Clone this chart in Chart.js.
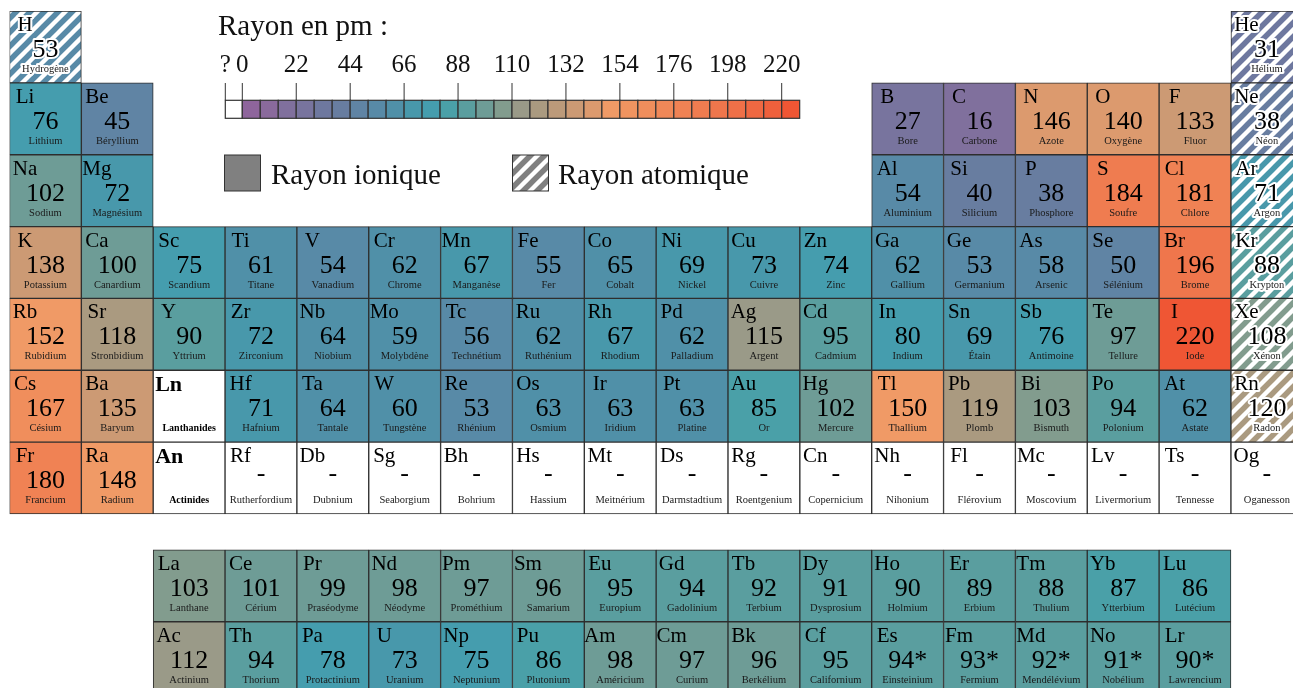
<!DOCTYPE html>
<html>
<head>
<meta charset="utf-8">
<script src="https://cdn.jsdelivr.net/npm/chart.js@4.4.1/dist/chart.umd.min.js"></script>
<style>
  html, body { margin: 0; padding: 0; overflow: hidden; background: #fff; }
  canvas { display: block; }
</style>
</head>
<body>
<canvas id="myChart" width="1320" height="702"></canvas>
<script>
var symbols = [
  'H','He',
  'Li','Be','B','C','N','O','F','Ne',
  'Na','Mg','Al','Si','P','S','Cl','Ar',
  'K','Ca','Sc','Ti','V','Cr','Mn','Fe','Co','Ni','Cu','Zn','Ga','Ge','As','Se','Br','Kr',
  'Rb','Sr','Y','Zr','Nb','Mo','Tc','Ru','Rh','Pd','Ag','Cd','In','Sn','Sb','Te','I','Xe',
  'Cs','Ba','Ln','Hf','Ta','W','Re','Os','Ir','Pt','Au','Hg','Tl','Pb','Bi','Po','At','Rn',
  'Fr','Ra','An','Rf','Db','Sg','Bh','Hs','Mt','Ds','Rg','Cn','Nh','Fl','Mc','Lv','Ts','Og',
  'La','Ce','Pr','Nd','Pm','Sm','Eu','Gd','Tb','Dy','Ho','Er','Tm','Yb','Lu',
  'Ac','Th','Pa','U','Np','Pu','Am','Cm','Bk','Cf','Es','Fm','Md','No','Lr'
];

var radii = [
  53, 31,
  76, 45, 27, 16, 146, 140, 133, 38,
  102, 72, 54, 40, 38, 184, 181, 71,
  138, 100, 75, 61, 54, 62, 67, 55, 65, 69, 73, 74, 62, 53, 58, 50, 196, 88,
  152, 118, 90, 72, 64, 59, 56, 62, 67, 62, 115, 95, 80, 69, 76, 97, 220, 108,
  167, 135, null, 71, 64, 60, 53, 63, 63, 63, 85, 102, 150, 119, 103, 94, 62, 120,
  180, 148, null, null, null, null, null, null, null, null, null, null, null, null, null, null, null, null,
  103, 101, 99, 98, 97, 96, 95, 94, 92, 91, 90, 89, 88, 87, 86,
  112, 94, 78, 73, 75, 86, 98, 97, 96, 95, 94, 93, 92, 91, 90
];

var names = [
  'Hydrogène','Hélium',
  'Lithium','Béryllium','Bore','Carbone','Azote','Oxygène','Fluor','Néon',
  'Sodium','Magnésium','Aluminium','Silicium','Phosphore','Soufre','Chlore','Argon',
  'Potassium','Canardium','Scandium','Titane','Vanadium','Chrome','Manganèse','Fer','Cobalt','Nickel','Cuivre','Zinc','Gallium','Germanium','Arsenic','Sélénium','Brome','Krypton',
  'Rubidium','Stronbidium','Yttrium','Zirconium','Niobium','Molybdène','Technétium','Ruthénium','Rhodium','Palladium','Argent','Cadmium','Indium','Étain','Antimoine','Tellure','Iode','Xénon',
  'Césium','Baryum','Lanthanides','Hafnium','Tantale','Tungstène','Rhénium','Osmium','Iridium','Platine','Or','Mercure','Thallium','Plomb','Bismuth','Polonium','Astate','Radon',
  'Francium','Radium','Actinides','Rutherfordium','Dubnium','Seaborgium','Bohrium','Hassium','Meitnérium','Darmstadtium','Roentgenium','Copernicium','Nihonium','Flérovium','Moscovium','Livermorium','Tennesse','Oganesson',
  'Lanthane','Cérium','Praséodyme','Néodyme','Prométhium','Samarium','Europium','Gadolinium','Terbium','Dysprosium','Holmium','Erbium','Thulium','Ytterbium','Lutécium',
  'Actinium','Thorium','Protactinium','Uranium','Neptunium','Plutonium','Américium','Curium','Berkélium','Californium','Einsteinium','Fermium','Mendélévium','Nobélium','Lawrencium'
];

var groups = [
  1, 18,
  1, 2, 13, 14, 15, 16, 17, 18,
  1, 2, 13, 14, 15, 16, 17, 18,
  1, 2, 3, 4, 5, 6, 7, 8, 9, 10, 11, 12, 13, 14, 15, 16, 17, 18,
  1, 2, 3, 4, 5, 6, 7, 8, 9, 10, 11, 12, 13, 14, 15, 16, 17, 18,
  1, 2, 3, 4, 5, 6, 7, 8, 9, 10, 11, 12, 13, 14, 15, 16, 17, 18,
  1, 2, 3, 4, 5, 6, 7, 8, 9, 10, 11, 12, 13, 14, 15, 16, 17, 18,
  3, 4, 5, 6, 7, 8, 9, 10, 11, 12, 13, 14, 15, 16, 17,
  3, 4, 5, 6, 7, 8, 9, 10, 11, 12, 13, 14, 15, 16, 17
];

var periods = [
  1, 1,
  2, 2, 2, 2, 2, 2, 2, 2,
  3, 3, 3, 3, 3, 3, 3, 3,
  4, 4, 4, 4, 4, 4, 4, 4, 4, 4, 4, 4, 4, 4, 4, 4, 4, 4,
  5, 5, 5, 5, 5, 5, 5, 5, 5, 5, 5, 5, 5, 5, 5, 5, 5, 5,
  6, 6, 6, 6, 6, 6, 6, 6, 6, 6, 6, 6, 6, 6, 6, 6, 6, 6,
  7, 7, 7, 7, 7, 7, 7, 7, 7, 7, 7, 7, 7, 7, 7, 7, 7, 7,
  8, 8, 8, 8, 8, 8, 8, 8, 8, 8, 8, 8, 8, 8, 8,
  9, 9, 9, 9, 9, 9, 9, 9, 9, 9, 9, 9, 9, 9, 9
];

var atomicRadius = ['H', 'He', 'Ne', 'Ar', 'Kr', 'Xe', 'Rn'];   // hachures
var estimated = ['Es', 'Fm', 'Md', 'No', 'Lr'];                  // valeurs avec *
var seriesLabels = ['Ln', 'An'];
var scaleTicks = [0, 22, 44, 66, 88, 110, 132, 154, 176, 198, 220];

// couleurs des cases de l'echelle (une case = 22/3 pm)
var scaleColors = [
  '#8e659c','#8a6a9c','#80709d','#78749e','#6e789f','#687da0','#6084a4','#588aa7',
  '#5090a8','#4898ab','#459dae','#4aa0a8','#5a9e9f','#6e9c96','#829c8e','#9a9a88',
  '#aa9a80','#bc9a7a','#cc9a74','#dc9a6e','#f09a66','#f09460','#f08e5c','#f08858',
  '#f08254','#ef7c50','#ef764c','#ef7048','#ef6842','#ef603c','#ef5634'
];
var boxStep = 22 / 3;

// une valeur prend la couleur de la case de l'echelle qui la contient
function radiusColor(v) {
  var k = Math.floor(v / boxStep);
  if (k < 0) k = 0;
  if (k > scaleColors.length - 1) k = scaleColors.length - 1;
  return scaleColors[k];
}

function makeHatch(color) {
  var s = 14;
  var c = document.createElement('canvas');
  c.width = s; c.height = s;
  var g = c.getContext('2d');
  g.fillStyle = '#fff';
  g.fillRect(0, 0, s, s);
  g.strokeStyle = color;
  g.lineWidth = 5.5;
  g.beginPath();
  g.moveTo(-s, s); g.lineTo(s, -s);
  g.moveTo(0, 2 * s); g.lineTo(2 * s, 0);
  g.moveTo(-s, 2 * s); g.lineTo(2 * s, -s);
  g.stroke();
  return g.createPattern(c, 'repeat');
}

var colLabels = [];
for (let g = 1; g <= 18; g++) colLabels.push(String(g));

var cells = [];
var fills = [];
for (let i = 0; i < symbols.length; i++) {
  let p = periods[i];
  let rowTop = p <= 7 ? p - 1 : p - 0.5;
  cells.push({ x: String(groups[i]), y: [rowTop, rowTop + 1] });
  if (radii[i] == null) fills.push('#ffffff');
  else if (atomicRadius.indexOf(symbols[i]) >= 0) fills.push(makeHatch(radiusColor(radii[i])));
  else fills.push(radiusColor(radii[i]));
}

var FONT = '"Liberation Serif", "DejaVu Serif", serif';

function haloText(ctx, txt, x, y, halo) {
  if (halo) {
    ctx.lineWidth = 4;
    ctx.lineJoin = 'round';
    ctx.strokeStyle = '#fff';
    ctx.strokeText(txt, x, y);
  }
  ctx.fillText(txt, x, y);
}

var cellText = {
  id: 'cellText',
  afterDatasetsDraw(chart) {
    var ctx = chart.ctx;
    var meta = chart.getDatasetMeta(0);
    ctx.save();
    ctx.textBaseline = 'alphabetic';
    meta.data.forEach(function (el, i) {
      var pr = el.getProps(['x', 'y', 'base', 'width'], true);
      var left = pr.x - pr.width / 2;
      var cellTop = Math.min(pr.y, pr.base);
      var w = pr.width;
      var sym = symbols[i];
      var halo = atomicRadius.indexOf(sym) >= 0;
      ctx.fillStyle = '#000';
      if (seriesLabels.indexOf(sym) >= 0) {
        ctx.textAlign = 'left';
        ctx.font = 'bold 22px ' + FONT;
        ctx.fillText(sym, left + 2, cellTop + 21);
        ctx.textAlign = 'center';
        ctx.font = 'bold 10px ' + FONT;
        ctx.fillText(names[i], left + w / 2, cellTop + 61);
        return;
      }
      ctx.textAlign = 'center';
      ctx.font = '21px ' + FONT;
      haloText(ctx, sym, left + 15.5, cellTop + 20, halo);
      ctx.font = '26px ' + FONT;
      if (radii[i] == null) {
        ctx.fillText('-', left + w / 2, cellTop + 39);
      } else {
        var txt = String(radii[i]) + (estimated.indexOf(sym) >= 0 ? '*' : '');
        haloText(ctx, txt, left + w / 2, cellTop + 46, halo);
      }
      ctx.font = '10.5px ' + FONT;
      ctx.fillStyle = '#1a1a1a';
      haloText(ctx, names[i], left + w / 2, cellTop + 61, halo);
    });
    ctx.restore();
  }
};

// echelle de couleurs et legende en haut
var colourKey = {
  id: 'colourKey',
  afterDraw(chart) {
    var ctx = chart.ctx;
    var x0 = 242.3, pxPer = 53.94 / 22, qx = 225.3;
    var by = 100.3, bh = 18;
    ctx.save();
    ctx.fillStyle = '#111';
    ctx.textBaseline = 'alphabetic';
    ctx.textAlign = 'left';
    ctx.font = '29px ' + FONT;
    ctx.fillText('Rayon en pm :', 218, 35);

    ctx.font = '25px ' + FONT;
    ctx.textAlign = 'center';
    ctx.fillText('?', qx, 72);
    ctx.strokeStyle = '#333';
    ctx.lineWidth = 1;
    ctx.beginPath();
    ctx.moveTo(qx, 83); ctx.lineTo(qx, by);
    scaleTicks.forEach(function (v) {
      var x = x0 + v * pxPer;
      ctx.fillText(String(v), x, 72);
      ctx.moveTo(x, 83); ctx.lineTo(x, by);
    });
    ctx.stroke();

    ctx.lineWidth = 1.2;
    ctx.fillStyle = '#fff';
    ctx.fillRect(qx, by, x0 - qx, bh);
    ctx.strokeRect(qx, by, x0 - qx, bh);
    scaleColors.forEach(function (c, k) {
      var x = x0 + k * boxStep * pxPer;
      ctx.fillStyle = c;
      ctx.fillRect(x, by, boxStep * pxPer, bh);
      ctx.strokeRect(x, by, boxStep * pxPer, bh);
    });

    // legende
    ctx.lineWidth = 1;
    ctx.fillStyle = '#808080';
    ctx.fillRect(224.5, 155, 36, 36);
    ctx.strokeRect(224.5, 155, 36, 36);
    ctx.fillStyle = makeHatch('#808080');
    ctx.fillRect(512.5, 155, 36, 36);
    ctx.strokeRect(512.5, 155, 36, 36);
    ctx.fillStyle = '#111';
    ctx.textAlign = 'left';
    ctx.font = '29px ' + FONT;
    ctx.fillText('Rayon ionique', 271, 184);
    ctx.fillText('Rayon atomique', 558, 184);
    ctx.restore();
  }
};

var chartCtx = document.getElementById('myChart').getContext('2d');
var chart = new Chart(chartCtx, {
  type: 'bar',
  data: {
    labels: colLabels,
    datasets: [{
      label: 'Rayon',
      data: cells,
      backgroundColor: fills,
      borderColor: '#2e2e2e',
      borderWidth: 1,
      borderSkipped: false,
      barPercentage: 1,
      categoryPercentage: 1,
      grouped: false
    }]
  },
  options: {
    responsive: false,
    animation: false,
    devicePixelRatio: 1,
    layout: { padding: { left: 9.5, top: 11, right: 17.2, bottom: 1.2 } },
    scales: {
      x: { type: 'category', display: false, offset: true },
      y: { type: 'linear', display: false, reverse: true, min: 0, max: 9.6 }
    },
    plugins: {
      legend: { display: false },
      tooltip: { enabled: false }
    }
  },
  plugins: [cellText, colourKey]
});
</script>
</body>
</html>
